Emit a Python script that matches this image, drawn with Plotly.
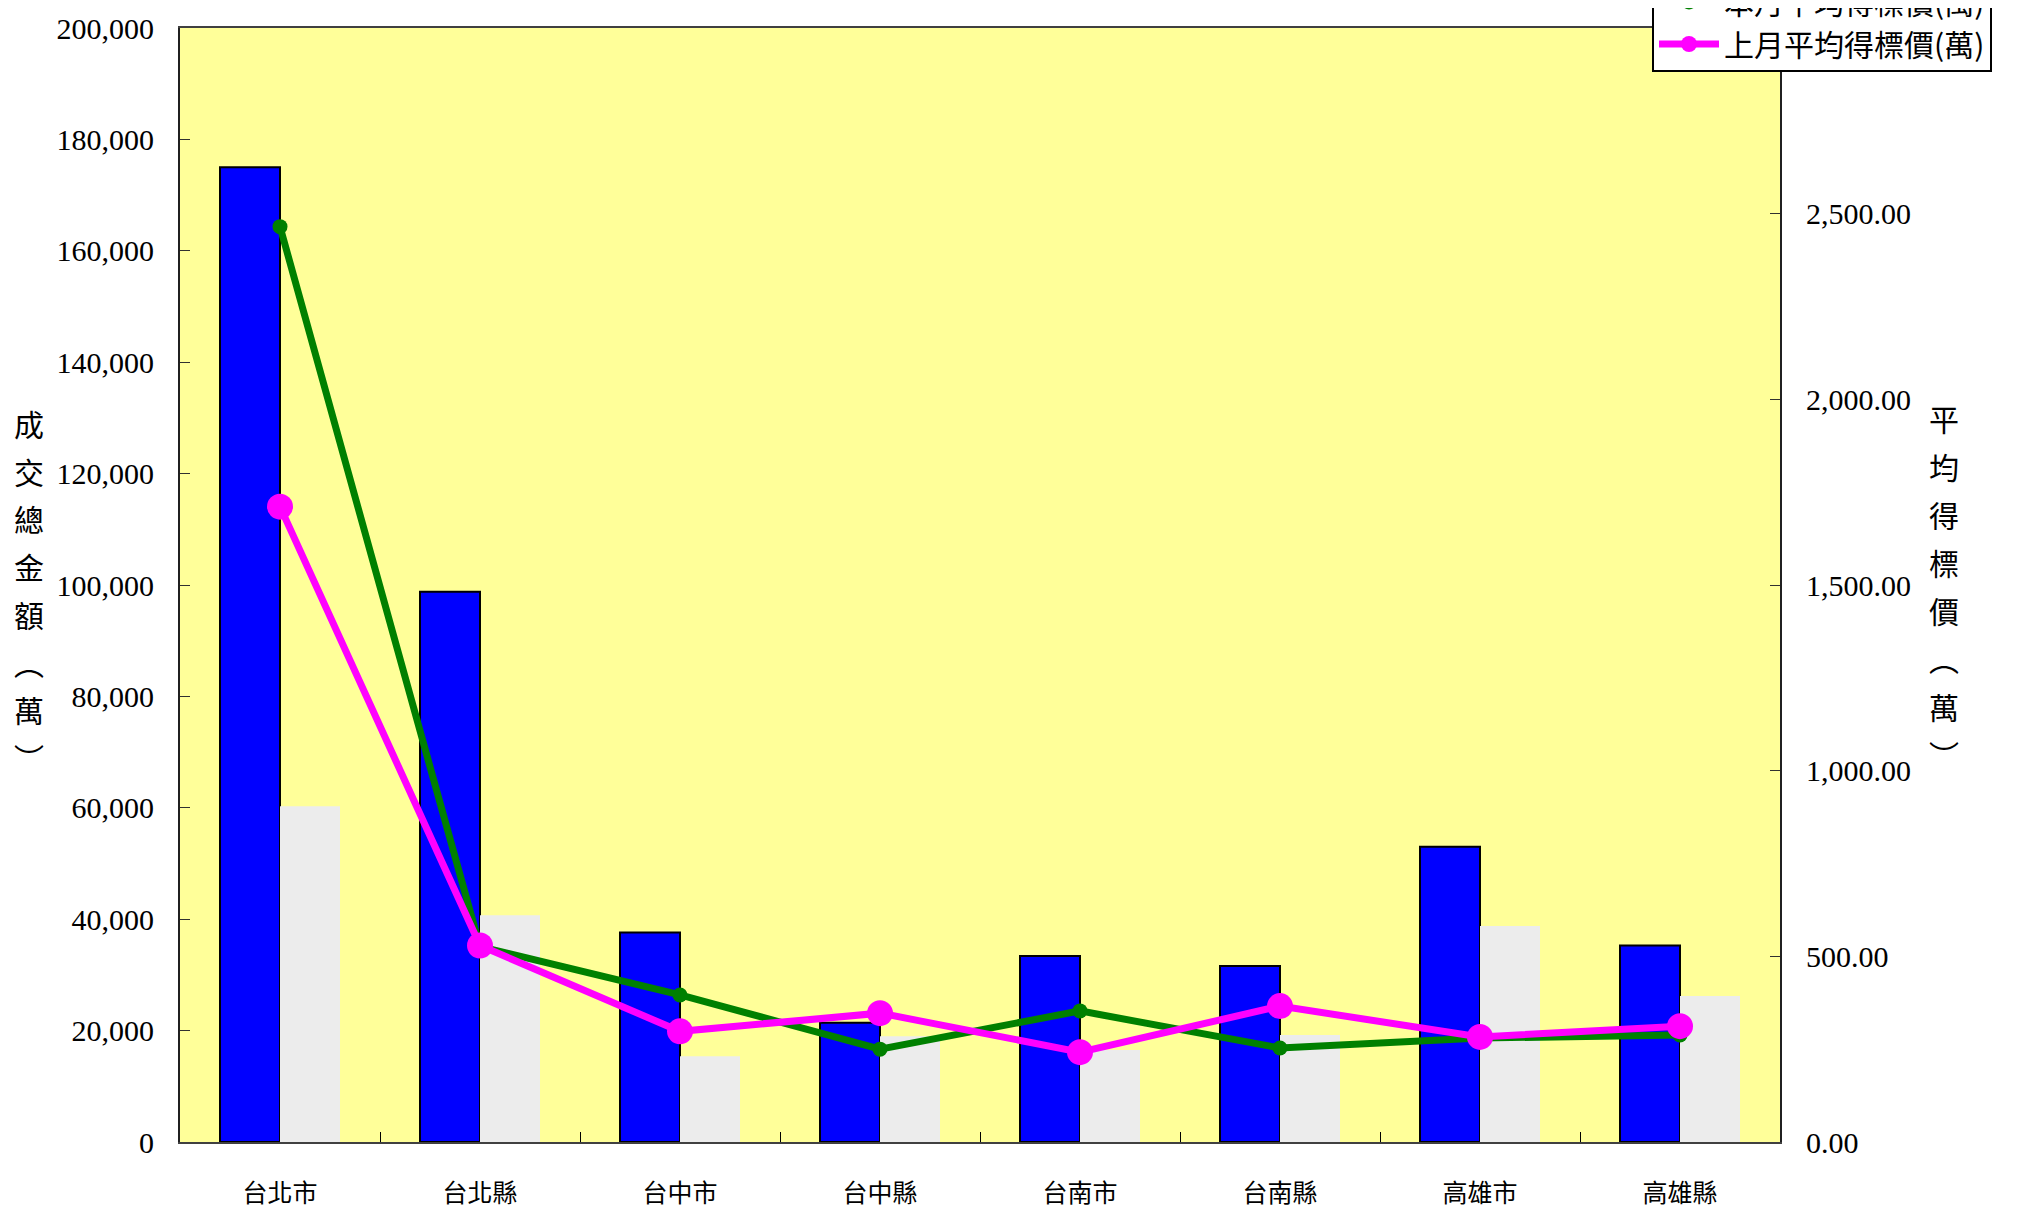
import plotly.graph_objects as go

# 縣市別
categories = ['台北市', '台北縣', '台中市', '台中縣', '台南市', '台南縣', '高雄市', '高雄縣']

# 成交總金額(萬)
total_this_month = [175000, 98800, 37600, 21400, 33400, 31600, 53000, 35300]
total_last_month = [60300, 40700, 15400, 19000, 16500, 19200, 38800, 26200]

# 平均得標價(萬)
avg_this_month = [2465, 526, 396, 250, 353, 253, 280, 288]
avg_last_month = [1711, 529, 298, 347, 242, 366, 283, 312]

left_title = ['成', '交', '總', '金', '額', '︵', '萬', '︶']
right_title = ['平', '均', '得', '標', '價', '︵', '萬', '︶']

CJK = 'Noto Sans CJK TC'
NUM = 'Liberation Serif'

# page body has an 8px margin, so the figure is a bit smaller than the window
OFF = 8
W, H = 2040 - OFF, 1212 - OFF
ML, MR, MT, MB = 172, 260, 20, 70
plot_w = W - ML - MR
plot_h = H - MT - MB


def px_to_paper(px, py):
    # page pixel -> paper coords
    px, py = px - OFF, py - OFF
    return (px - ML) / plot_w, (H - MB - py) / plot_h


fig = go.Figure()

fig.add_trace(go.Bar(
    x=categories, y=total_this_month, name='本月成交總金額(萬)',
    marker=dict(color='#0000FF', line=dict(color='black', width=2)),
    showlegend=False,
))
fig.add_trace(go.Bar(
    x=categories, y=total_last_month, name='上月成交總金額(萬)',
    marker=dict(color='#ECECEC', line=dict(width=0)),
    showlegend=False,
))
fig.add_trace(go.Scatter(
    x=categories, y=avg_this_month, name='本月平均得標價(萬)', yaxis='y2',
    mode='lines+markers',
    line=dict(color='#008000', width=7),
    marker=dict(color='#008000', size=15),
))
fig.add_trace(go.Scatter(
    x=categories, y=avg_last_month, name='上月平均得標價(萬)', yaxis='y2',
    mode='lines+markers',
    line=dict(color='#FF00FF', width=7),
    marker=dict(color='#FF00FF', size=26),
))

annotations = []
for i, ch in enumerate(left_title):
    ax, ay = px_to_paper(29, 423 + 47.7 * i)
    annotations.append(dict(x=ax, y=ay, xref='paper', yref='paper', text=ch,
                            xanchor='center', yanchor='middle',
                            showarrow=False, font=dict(family=CJK, size=30, color='black')))
for i, ch in enumerate(right_title):
    ax, ay = px_to_paper(1944, 418 + 48 * i)
    annotations.append(dict(x=ax, y=ay, xref='paper', yref='paper', text=ch,
                            xanchor='center', yanchor='middle',
                            showarrow=False, font=dict(family=CJK, size=30, color='black')))

lx, ly = px_to_paper(1652, 72)

fig.update_layout(
    width=W, height=H,
    margin=dict(l=ML, r=MR, t=MT, b=MB, autoexpand=False),
    paper_bgcolor='white',
    plot_bgcolor='#FFFF99',
    barmode='group',
    bargap=0.4,
    bargroupgap=0,
    font=dict(family=NUM + ', ' + CJK, size=30, color='black'),
    xaxis=dict(
        showline=True, linecolor='#404040', linewidth=2, mirror=True,
        ticks='inside', ticklen=10, tickcolor='black', tickson='boundaries',
        tickfont=dict(family=CJK, size=25), ticklabelstandoff=28,
        showgrid=False,
    ),
    yaxis=dict(
        range=[0, 200000], dtick=20000, tickformat=',',
        showline=True, linecolor='#202020', linewidth=2,
        ticks='inside', ticklen=10, tickcolor='#303030',
        ticklabelstandoff=18,
        tickfont=dict(family=NUM, size=30),
        showgrid=False, zeroline=False,
    ),
    yaxis2=dict(
        range=[0, 3000], dtick=500, tickformat=',.2f',
        overlaying='y', side='right',
        showline=True, linecolor='#202020', linewidth=2,
        ticks='inside', ticklen=10, tickcolor='#303030',
        ticklabelstandoff=18,
        tickfont=dict(family=NUM, size=30),
        showgrid=False, zeroline=False,
    ),
    legend=dict(
        x=lx, y=ly, xanchor='left', yanchor='bottom',
        bgcolor='white', bordercolor='black', borderwidth=2,
        font=dict(family=CJK, size=30),
        itemwidth=60,
    ),
    annotations=annotations,
)

fig.write_html('out.html')
